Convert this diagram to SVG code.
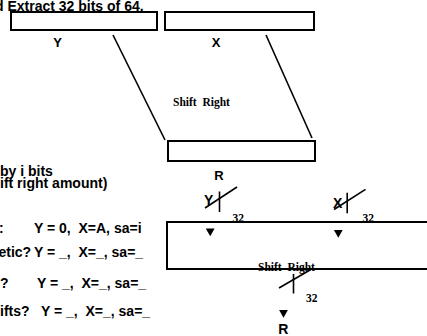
<svg xmlns="http://www.w3.org/2000/svg" xmlns:xlink="http://www.w3.org/1999/xlink" width="427" height="336" viewBox="0 0 427 336">
<style>
.box{fill:#fff;stroke:#000;stroke-width:2}
.ln{stroke:#000;stroke-width:1.6;fill:none}
.sans{font-family:"Liberation Sans",Arial,sans-serif;font-weight:bold;fill:#000}
.serif{font-family:"Liberation Serif","Times New Roman",serif;font-weight:bold;fill:#000;font-size:11.5px}
.t14{font-size:14px}
.t13{font-size:13px}
.pre{white-space:pre}
</style>
<defs>
<polygon id="tri" points="-4.4,0 4.4,0 0,7.8" fill="#000"/>
</defs>
<rect width="427" height="336" fill="#fff"/>

<g id="title"><text class="sans t14" x="-5" y="11">d Extract 32 bits of 64.</text></g>

<g id="connectors">
<line class="ln" x1="113" y1="35" x2="165" y2="140"/>
<line class="ln" x1="266" y1="35" x2="312" y2="138"/>
</g>

<g id="nodeY"><rect class="box" x="11" y="12" width="146" height="18"/><text class="sans t13" x="57.5" y="47" text-anchor="middle">Y</text></g>
<g id="nodeX"><rect class="box" x="165" y="12" width="149" height="18"/><text class="sans t13" x="216" y="47" text-anchor="middle">X</text></g>
<g id="shiftLabel"><text class="serif pre" x="173" y="105.5">Shift  Right</text></g>
<g id="nodeR"><rect class="box" x="168" y="141" width="147" height="20"/><text class="sans t13" x="219" y="180" text-anchor="middle">R</text></g>

<g id="notes" class="sans t14">
<text x="0" y="175.5">by i bits</text>
<text x="0" y="188">ift right amount)</text>
<text class="pre" y="233"><tspan x="-1">:</tspan><tspan x="34">Y = 0,  X=A, sa=i</tspan></text>
<text class="pre" y="257"><tspan x="-1.5">etic?</tspan><tspan x="34">Y = _,  X=_, sa=_</tspan></text>
<text class="pre" y="288"><tspan x="0">?</tspan><tspan x="37">Y = _,  X=_, sa=_</tspan></text>
<text class="pre" y="316"><tspan x="0">ifts?</tspan><tspan x="41">Y = _,  X=_, sa=_</tspan></text>
</g>

<g id="shifter">
<rect class="box" x="167" y="222" width="280" height="47"/>
<text class="serif pre" x="258" y="270.5">Shift  Right</text>
</g>

<g id="inputY">
<text class="sans t14" x="204" y="205">Y</text>
<line class="ln" x1="205" y1="208" x2="237" y2="187"/>
<line class="ln" x1="219.5" y1="191.5" x2="219.5" y2="212"/>
<text class="serif" x="232.5" y="221.5">32</text>
<use xlink:href="#tri" x="210.2" y="228.5"/>
</g>

<g id="inputX">
<text class="sans t14" x="333" y="208">X</text>
<line class="ln" x1="334" y1="209.5" x2="365.5" y2="189.3"/>
<line class="ln" x1="347.2" y1="192.7" x2="347.2" y2="213.3"/>
<text class="serif" x="362.5" y="221.5">32</text>
<use xlink:href="#tri" x="338.3" y="230"/>
</g>

<g id="outputR">
<line class="ln" x1="279" y1="288" x2="310" y2="270"/>
<line class="ln" x1="293.5" y1="274" x2="293.5" y2="293.5"/>
<text class="serif" x="306" y="302">32</text>
<use xlink:href="#tri" x="283.5" y="310"/>
<text class="sans t14" x="283.3" y="333.5" text-anchor="middle">R</text>
</g>
</svg>
